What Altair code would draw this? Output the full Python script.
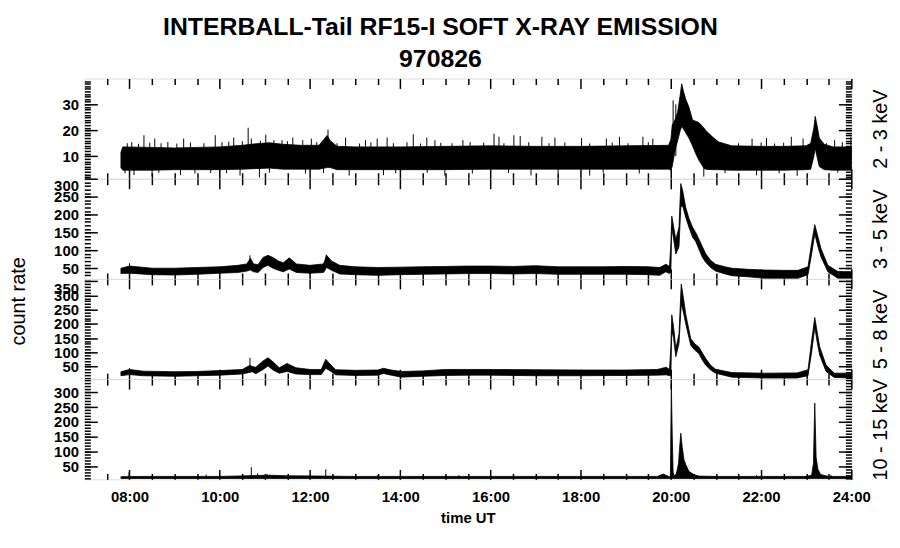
import altair as alt
import pandas as pd

# ---------------- text ----------------
TITLE_LINES = ["INTERBALL-Tail RF15-I SOFT X-RAY EMISSION", "970826"]
X_TITLE = "time UT"
Y_TITLE = "count rate"
BAND_LABELS = ["2 - 3 keV", "3 - 5 keV", "5 - 8 keV", "10 - 15 keV"]

# ---------------- axes ----------------
X_DOMAIN = [7, 24]
X_MAJOR = [8, 10, 12, 14, 16, 18, 20, 22, 24]
X_MINOR = [7.5, 8.5, 9, 9.5, 10.5, 11, 11.5, 12.5, 13, 13.5, 14.5, 15, 15.5,
           16.5, 17, 17.5, 18.5, 19, 19.5, 20.5, 21, 21.5, 22.5, 23, 23.5]
Y_DOMAINS = [[1.3, 40], [20, 300.5], [6, 358], [6, 345]]
Y_MAJOR = [[10, 20, 30],
           [50, 100, 150, 200, 250, 300],
           [50, 100, 150, 200, 250, 300, 350],
           [50, 100, 150, 200, 250, 300]]
Y_MINOR = [list(range(2, 40)),
           list(range(30, 301, 10)),
           list(range(10, 351, 10)),
           list(range(10, 341, 10))]

# ---------------- panel 1 : 2 - 3 keV (envelope of the noisy trace) ----------------
p1_t = [7.81, 7.85, 8.5, 9.0, 9.5, 10.0, 10.5, 10.8, 11.1, 11.4, 11.8, 12.2, 12.38, 12.45,
        12.6, 13.0, 14.0, 15.0, 16.0, 17.0, 18.0, 19.0, 19.95, 20.0, 20.03, 20.09, 20.15,
        20.21, 20.24, 20.28, 20.33, 20.40, 20.48, 20.55, 20.62, 20.73, 20.77, 20.92, 21.06,
        21.35, 22.0, 22.5, 23.0, 23.1, 23.17, 23.2, 23.25, 23.29, 23.4, 23.6, 24.0]
p1_lo = [5.5, 4.6, 4.6, 4.8, 4.8, 4.8, 5.0, 5.2, 5.4, 5.0, 5.0, 5.0, 5.6, 5.6,
         4.8, 4.8, 4.8, 4.8, 5.0, 5.0, 5.0, 5.0, 5.0, 4.6, 6.0, 12.0, 16.0,
         20.0, 21.5, 20.5, 19.0, 17.0, 14.0, 11.0, 8.5, 5.4, 5.0, 4.8, 4.8,
         4.6, 4.6, 4.6, 4.8, 5.0, 10.0, 13.0, 9.0, 6.0, 4.8, 4.6, 4.6]
p1_hi = [11.5, 13.6, 13.4, 13.2, 13.4, 13.6, 14.2, 14.8, 15.2, 14.6, 14.2, 14.2, 18.0, 16.0,
         13.8, 13.6, 13.6, 13.8, 14.0, 13.8, 13.8, 14.0, 14.2, 16.5, 22.0, 24.0, 27.0,
         34.0, 38.0, 35.0, 32.0, 29.0, 24.0, 23.5, 23.0, 21.0, 20.0, 17.5, 15.5,
         14.0, 13.8, 13.8, 14.0, 15.0, 21.0, 25.4, 21.0, 17.0, 14.6, 13.6, 13.6]
p1_spike_t = [8.32, 8.56, 9.20, 9.90, 10.31, 10.63, 10.70, 11.02, 11.38, 11.62, 11.84, 12.03,
              12.40, 12.79, 13.23, 13.49, 13.71, 14.29, 14.59, 14.77, 15.39, 16.08, 16.19,
              16.52, 16.66, 17.14, 17.43, 18.02, 18.57, 18.86, 19.38, 19.60, 20.05, 20.11,
              21.80, 22.12, 22.67, 22.93, 23.63, 23.99,
              7.95, 8.05, 8.20, 8.45, 8.70, 8.85, 9.05, 9.35, 9.65, 10.05, 10.20, 10.50,
              10.90, 11.20, 11.50, 12.15, 12.60, 13.10, 13.35, 13.85, 14.15, 14.45, 14.90,
              15.15, 15.55, 15.85, 16.30, 16.85, 17.30, 17.65, 18.20, 18.70, 19.05, 19.50,
              21.50, 22.00, 22.30, 22.50, 23.45, 23.80,
              8.10, 8.50, 9.13, 10.45, 10.88, 12.87, 13.63, 14.99, 16.90, 18.20, 20.73,
              21.90, 22.80,
              7.90, 8.65, 9.45, 9.80, 10.15, 11.10, 11.90, 12.30, 13.90, 14.60, 15.60,
              16.40, 17.50, 18.50, 19.30, 21.20, 22.40, 23.70]
p1_spike_lo = ([10] * 40 + [10] * 40 +
               [2.7, 2.2, 2.7, 2.5, 1.8, 2.5, 2.7, 2.5, 2.6, 2.5, 2.1, 2.6, 2.4] +
               [3.4, 3.6, 3.3, 3.5, 3.4, 3.6, 3.3, 3.5, 3.4, 3.6, 3.3,
                3.5, 3.4, 3.6, 3.3, 3.5, 3.4, 3.6])
p1_spike_hi = ([18.1, 16.8, 16.8, 18.1, 17.2, 21.0, 16.8, 18.3, 16.2, 17.2, 16.2, 16.8,
                20.3, 17.2, 16.2, 16.8, 17.2, 18.5, 17.2, 16.2, 16.2, 18.7, 17.5,
                18.1, 17.8, 17.5, 17.2, 17.0, 16.8, 17.5, 17.5, 16.8, 31.6, 30.0,
                16.8, 17.0, 17.5, 16.8, 16.2, 17.5] +
               [15.0, 15.4, 14.8, 15.2, 15.0, 15.5, 14.9, 15.3, 15.0, 15.4, 15.6, 15.8,
                16.0, 16.2, 15.8, 15.4, 15.0, 14.9, 15.3, 15.0, 15.4, 14.9, 15.2,
                15.0, 15.5, 15.2, 15.0, 15.4, 15.0, 15.3, 14.9, 15.2, 15.0, 15.4,
                15.0, 15.3, 14.9, 15.2, 15.0, 15.4] +
               [8] * 13 + [8] * 18)

# ---------------- panel 2 : 3 - 5 keV ----------------
p2_t = [7.81, 8.0, 8.5, 9.0, 9.5, 10.0, 10.4, 10.6, 10.68, 10.75, 10.85, 10.96, 11.07, 11.18,
        11.3, 11.41, 11.54, 11.7, 12.0, 12.3, 12.37, 12.48, 12.66, 13.0, 13.5, 14.0, 14.5,
        15.0, 15.5, 16.0, 16.5, 17.0, 17.5, 18.0, 18.5, 19.0, 19.5, 19.75, 19.89, 19.97,
        20.0, 20.02, 20.05, 20.11, 20.18, 20.22, 20.26, 20.33, 20.40, 20.48, 20.55, 20.62,
        20.70, 20.77, 20.88, 20.99, 21.2, 21.35, 21.7, 22.08, 22.5, 22.82, 23.04, 23.12,
        23.19, 23.26, 23.33, 23.48, 23.7, 24.0]
p2_lo = [35, 36, 32, 31, 33, 36, 38, 42, 45, 40, 38, 52, 58, 50,
         44, 40, 48, 38, 36, 38, 52, 44, 34, 32, 30, 32, 33,
         34, 35, 35, 34, 35, 33, 33, 33, 33, 32, 30, 40, 35,
         40, 165, 140, 90, 110, 220, 225, 192, 165, 137, 125, 104,
         80, 67, 52, 42, 34, 29, 26, 22, 22, 22, 32, 90,
         146, 110, 81, 40, 22, 22]
p2_hi = [50, 56, 50, 50, 52, 54, 58, 62, 78, 62, 60, 80, 86, 80,
         70, 65, 79, 62, 58, 62, 86, 70, 58, 54, 52, 53, 54,
         55, 56, 56, 55, 57, 54, 54, 54, 55, 54, 52, 61, 55,
         120, 196, 175, 130, 165, 287, 268, 220, 190, 165, 150, 132,
         110, 91, 72, 61, 54, 50, 47, 45, 44, 44, 54, 120,
         172, 138, 104, 58, 41, 40]
p2_spike_t = [8.0, 10.67, 12.36]
p2_spike_lo = [40, 50, 55]
p2_spike_hi = [64, 86, 88]

# ---------------- panel 3 : 5 - 8 keV ----------------
p3_t = [7.81, 8.0, 8.3, 9.0, 9.5, 10.0, 10.5, 10.67, 10.72, 10.8, 10.96, 11.07, 11.18, 11.32,
        11.49, 11.69, 12.0, 12.25, 12.35, 12.45, 12.57, 13.0, 13.5, 13.63, 13.8, 14.03, 14.5,
        15.0, 15.5, 16.0, 17.0, 18.0, 19.0, 19.7, 19.9, 19.97, 20.0, 20.02, 20.06, 20.11,
        20.18, 20.23, 20.28, 20.33, 20.44, 20.53, 20.62, 20.70, 20.77, 20.88, 20.99, 21.35,
        22.08, 22.8, 23.04, 23.12, 23.19, 23.25, 23.30, 23.44, 23.62, 24.0]
p3_lo = [18, 22, 18, 16, 18, 20, 24, 30, 32, 25, 40, 52, 38, 27,
         33, 24, 22, 22, 44, 35, 21, 19, 20, 26, 20, 13, 16,
         19, 20, 20, 18, 18, 19, 20, 21, 18, 20, 177, 150, 85,
         131, 269, 240, 200, 125, 108, 96, 72, 56, 38, 27, 13,
         10, 10, 18, 100, 188, 130, 90, 33, 12, 10]
p3_hi = [32, 40, 34, 32, 33, 36, 40, 55, 50, 48, 70, 81, 67, 46,
         61, 46, 40, 40, 76, 58, 39, 37, 38, 44, 38, 33, 35,
         40, 40, 40, 39, 38, 38, 40, 48, 40, 120, 232, 190, 113,
         165, 340, 290, 234, 148, 130, 119, 98, 79, 55, 41, 29,
         27, 28, 39, 140, 223, 165, 119, 56, 27, 27]
p3_spike_t = [8.0, 10.67]
p3_spike_lo = [25, 40]
p3_spike_hi = [45, 81]

# ---------------- panel 4 : 10 - 15 keV ----------------
p4_t = [7.81, 8.3, 9.0, 10.0, 10.6, 10.8, 11.1, 11.5, 12.3, 13.0, 14.0, 15.0, 16.0, 17.0,
        18.0, 19.0, 19.7, 19.83, 19.95, 19.99, 20.01, 20.03, 20.05, 20.07, 20.12, 20.17,
        20.19, 20.22, 20.25, 20.29, 20.33, 20.40, 20.51, 20.62, 21.0, 22.0, 23.0, 23.12,
        23.16, 23.19, 23.22, 23.26, 23.32, 23.5, 24.0]
p4_lo = [9] * 45
p4_hi = [15, 16, 16, 16, 18, 19, 20, 18, 17, 16, 16, 16, 16, 16,
         16, 16, 16, 24, 16, 16, 331, 160, 30, 18, 24, 60,
         106, 162, 118, 73, 56, 33, 22, 17, 16, 16, 16, 20,
         60, 264, 80, 40, 22, 16, 16]
p4_spike_t = [7.99, 9.7, 10.70, 10.84, 11.05, 12.35, 13.5, 15.3, 21.9, 23.55]
p4_spike_lo = [9] * 10
p4_spike_hi = [30, 22, 47, 26, 23, 40, 20, 20, 20, 21]

PANELS = [
    (p1_t, p1_lo, p1_hi, p1_spike_t, p1_spike_lo, p1_spike_hi),
    (p2_t, p2_lo, p2_hi, p2_spike_t, p2_spike_lo, p2_spike_hi),
    (p3_t, p3_lo, p3_hi, p3_spike_t, p3_spike_lo, p3_spike_hi),
    (p4_t, p4_lo, p4_hi, p4_spike_t, p4_spike_lo, p4_spike_hi),
]

FONT = "Liberation Sans"
W, H = 773, 101
XMAJ, XMIN, YMAJ, YMIN = 10, 6, 13, 6


def xaxis(orient, values, size, labels=False, title=None):
    kw = dict(orient=orient, values=values, offset=-size, tickSize=size, labels=labels,
              domain=False, grid=False, tickColor="black", tickWidth=1.5,
              labelFlush=False, title=title)
    if labels:
        kw.update(labelExpr="(datum.value < 10 ? '0' : '') + datum.value + ':00'",
                  labelFont=FONT, labelFontSize=15, labelFontWeight="bold",
                  labelColor="black", labelPadding=10)
    if title:
        kw.update(titleFont=FONT, titleFontSize=15, titleFontWeight="bold",
                  titleColor="black", titlePadding=6)
    return alt.Axis(**kw)


def yaxis(orient, values, size, labels=False, **extra):
    kw = dict(orient=orient, values=values, offset=-size, tickSize=size, labels=labels,
              domain=False, grid=False, tickColor="black", tickWidth=1.5, title=None)
    if labels:
        kw.update(labelFont=FONT, labelFontSize=15, labelFontWeight="bold",
                  labelColor="black", labelPadding=6, labelFlush=3, labelOverlap=False)
    kw.update(extra)
    return alt.Axis(**kw)


charts = []
for i, (t, lo, hi, st, slo, shi) in enumerate(PANELS):
    last = i == len(PANELS) - 1
    band = pd.DataFrame({"t": t, "lo": lo, "hi": hi})
    spikes = pd.DataFrame({"t": st, "lo": slo, "hi": shi})
    xs = alt.Scale(domain=X_DOMAIN, nice=False, zero=False)
    ys = alt.Scale(domain=Y_DOMAINS[i], nice=False, zero=False)

    area = alt.Chart(band).mark_area(
        color="black", stroke="black", strokeWidth=0.8, interpolate="linear", opacity=1
    ).encode(
        x=alt.X("t:Q", scale=xs,
                axis=xaxis("bottom", X_MAJOR, XMAJ, labels=last,
                           title=X_TITLE if last else None)),
        y=alt.Y("lo:Q", scale=ys, axis=yaxis("left", Y_MAJOR[i], YMAJ, labels=True)),
        y2="hi:Q",
    )
    spk = alt.Chart(spikes).mark_rule(color="black", strokeWidth=1).encode(
        x=alt.X("t:Q", scale=xs, axis=xaxis("bottom", X_MINOR, XMIN)),
        y=alt.Y("lo:Q", scale=ys, axis=yaxis("left", Y_MINOR[i], YMIN)),
        y2="hi:Q",
    )
    ax3 = alt.Chart(spikes).mark_rule(opacity=0).encode(
        x=alt.X("t:Q", scale=xs, axis=xaxis("top", X_MAJOR, XMAJ)),
        y=alt.Y("lo:Q", scale=ys, axis=yaxis(
            "right", Y_MAJOR[i], YMAJ, title=BAND_LABELS[i], titleFont=FONT,
            titleFontSize=20, titleFontWeight="normal", titleColor="black",
            titleAngle=270, titleBaseline="top", titleAlign="center", titlePadding=19)),
        y2="hi:Q",
    )
    ax4 = alt.Chart(spikes).mark_rule(opacity=0).encode(
        x=alt.X("t:Q", scale=xs, axis=xaxis("top", X_MINOR, XMIN)),
        y=alt.Y("lo:Q", scale=ys, axis=yaxis("right", Y_MINOR[i], YMIN)),
        y2="hi:Q",
    )
    layer = alt.layer(area, spk, ax3, ax4).resolve_axis(
        x="independent", y="independent").properties(width=W, height=H)
    charts.append(layer)

inner = alt.vconcat(*charts, spacing=0, bounds="flush").properties(
    title=alt.TitleParams(text=Y_TITLE, orient="left", anchor="middle", font=FONT,
                          fontSize=20, fontWeight="normal", color="black", offset=24)
)

chart = alt.vconcat(inner, spacing=0).properties(
    title=alt.TitleParams(text=TITLE_LINES, font=FONT, fontSize=25, fontWeight="bold",
                          color="black", anchor="middle", dx=-10, lineHeight=33,
                          offset=5),
    padding={"left": 1, "top": 4, "right": 0, "bottom": 5},
).configure_view(stroke="black", strokeWidth=2).configure(background="white")

chart.save("out.html", embed_options={"renderer": "svg", "actions": False})
